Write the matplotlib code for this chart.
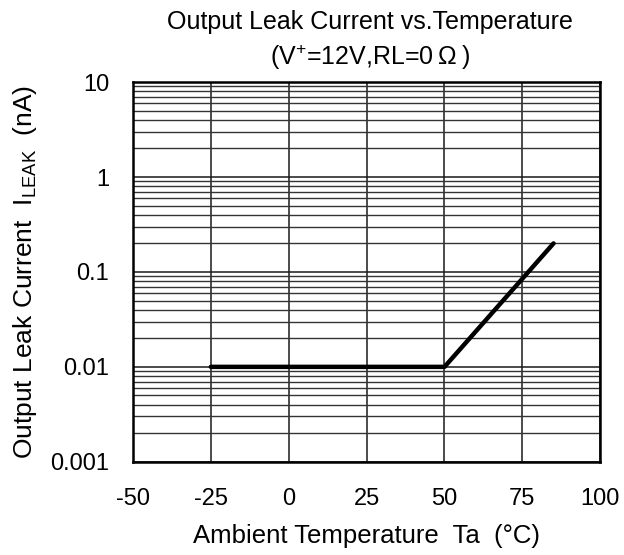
import numpy as np
import matplotlib
matplotlib.use("Agg")
import matplotlib.pyplot as plt
from matplotlib.ticker import FixedLocator, FixedFormatter, LogLocator, NullFormatter

plt.rcParams['font.family'] = ['Liberation Sans', 'DejaVu Sans']
plt.rcParams['mathtext.fontset'] = 'custom'
plt.rcParams['mathtext.rm'] = 'Liberation Sans'
plt.rcParams['mathtext.it'] = 'Liberation Sans'
plt.rcParams['axes.unicode_minus'] = False

# Data
temp = [-25, 50, 85]
leak = [0.01, 0.01, 0.2]

x_ticks = [-50, -25, 0, 25, 50, 75, 100]
y_ticks = [0.001, 0.01, 0.1, 1, 10]
y_labels = ['0.001', '0.01', '0.1', '1', '10']

fig = plt.figure(figsize=(6.24, 5.55), dpi=100)
ax = fig.add_axes([0.213, 0.168, 0.749, 0.684])

ax.set_yscale('log')
ax.set_xlim(-50, 100)
ax.set_ylim(0.001, 10)

ax.xaxis.set_major_locator(FixedLocator(x_ticks))
ax.yaxis.set_major_locator(FixedLocator(y_ticks))
ax.yaxis.set_major_formatter(FixedFormatter(y_labels))
ax.yaxis.set_minor_locator(LogLocator(base=10, subs=np.arange(2, 10)))
ax.yaxis.set_minor_formatter(NullFormatter())

ax.grid(True, which='major', axis='both', color='#1a1a1a', lw=1.1)
ax.grid(True, which='minor', axis='y', color='#333333', lw=1.0)

ax.plot(temp, leak, color='black', lw=3.2, solid_capstyle='round', zorder=3)

for s in ax.spines.values():
    s.set_linewidth(1.8)
    s.set_color('black')
    s.set_zorder(4)

ax.tick_params(which='both', length=0, labelsize=17)
ax.tick_params(axis='x', pad=19)
ax.tick_params(axis='y', pad=17)

ax.set_xlabel('Ambient Temperature  Ta  (°C)', fontsize=18.5)
ax.xaxis.set_label_coords(0.5, -0.165)
ax.set_ylabel(r'Output Leak Current  I$_{\mathregular{LEAK}}$  (nA)', fontsize=19)
ax.yaxis.set_label_coords(-0.20, 0.5)

fig.text(0.593, 0.960, 'Output Leak Current vs.Temperature', ha='center', va='center', fontsize=18)
fig.text(0.593, 0.897, '(V$^{\\mathregular{+}}$=12V,RL=0\u2009\u03a9\u2009)', ha='center', va='center', fontsize=18)

fig.savefig('out.png', dpi=100)
